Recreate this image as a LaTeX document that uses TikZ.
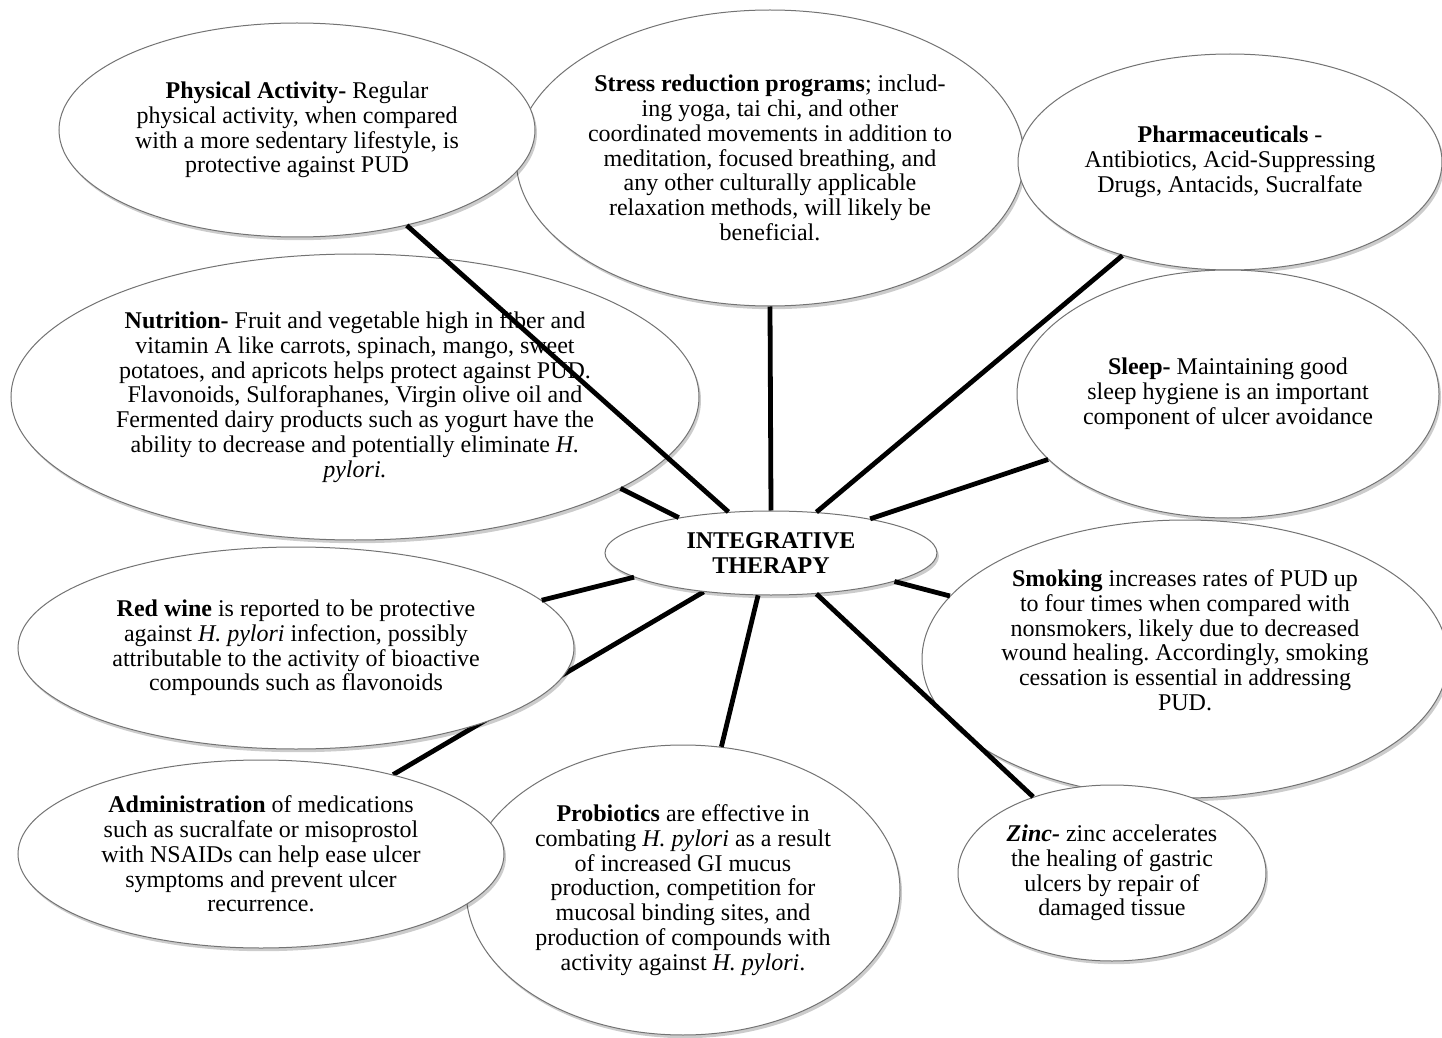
\documentclass[tikz,border=0pt]{standalone}
\usepackage{fontspec}
\setmainfont{Liberation Serif}
\usetikzlibrary{shapes.geometric,shadows}
\pgfdeclarelayer{bg}
\pgfdeclarelayer{fg}
\pgfsetlayers{bg,main,fg}
\frenchspacing
\tikzset{
  bubble/.style={ellipse, draw=black!55, line width=0.5pt, fill=white, inner sep=-2pt,
    align=center, font=\fontsize{12pt}{12.4pt}\selectfont,
    drop shadow={shadow xshift=1pt, shadow yshift=-1.6pt, opacity=0.2, fill=black}},
  link/.style={line width=2.4pt, draw=black},
}
\begin{document}
\begin{tikzpicture}[x=0.5pt,y=-0.5pt]
\begin{pgfonlayer}{bg}
\fill[white] (0,0) rectangle (1442,1038);
\end{pgfonlayer}
\useasboundingbox (0,0) rectangle (1442,1038);

\node[bubble, minimum width=254pt, minimum height=148pt] (stress) at (770,158)
  {\textbf{Stress reduction programs}; includ-\\ing yoga, tai chi, and other\\coordinated movements in addition to\\meditation, focused breathing, and\\any other culturally applicable\\relaxation methods, will likely be\\beneficial.};
\node[bubble, minimum width=212pt, minimum height=108pt] (pharm) at (1230,162)
  {\textbf{Pharmaceuticals} -\\Antibiotics, Acid-Suppressing\\Drugs, Antacids, Sucralfate};
\node[bubble, minimum width=344pt, minimum height=143pt] (nutr) at (355,397)
  {\textbf{Nutrition-} Fruit and vegetable high in fiber and\\vitamin A like carrots, spinach, mango, sweet\\potatoes, and apricots helps protect against PUD.\\Flavonoids, Sulforaphanes, Virgin olive oil and\\Fermented dairy products such as yogurt have the\\ability to decrease and potentially eliminate \textit{H.}\\\textit{pylori.}};
\node[bubble, minimum width=238pt, minimum height=107pt] (pa) at (297,130)
  {\textbf{Physical Activity-} Regular\\physical activity, when compared\\with a more sedentary lifestyle, is\\protective against PUD};
\node[bubble, minimum width=211pt, minimum height=124pt] (sleep) at (1228,394)
  {\textbf{Sleep-} Maintaining good\\sleep hygiene is an important\\component of ulcer avoidance};
\node[bubble, minimum width=263pt, minimum height=139pt] (smoke) at (1185,659)
  {\textbf{Smoking} increases rates of PUD up\\to four times when compared with\\nonsmokers, likely due to decreased\\wound healing. Accordingly, smoking\\cessation is essential in addressing\\PUD.\\[6.5pt]\mbox{}};
\node[bubble, minimum width=154pt, minimum height=88pt] (zinc) at (1112,873)
  {\textbf{\textit{Zinc-}} zinc accelerates\\the healing of gastric\\ulcers by repair of\\damaged tissue};
\node[bubble, minimum width=217pt, minimum height=145pt] (prob) at (683,890)
  {\textbf{Probiotics} are effective in\\combating \textit{H. pylori} as a result\\of increased GI mucus\\production, competition for\\mucosal binding sites, and\\production of compounds with\\activity against \textit{H. pylori}.};
\node[bubble, minimum width=243pt, minimum height=94pt] (admin) at (261,854)
  {\textbf{Administration} of medications\\such as sucralfate or misoprostol\\with NSAIDs can help ease ulcer\\symptoms and prevent ulcer\\recurrence.};
\node[bubble, minimum width=278pt, minimum height=101pt] (wine) at (296,648)
  {\textbf{Red wine} is reported to be protective\\against \textit{H. pylori} infection, possibly\\attributable to the activity of bioactive\\compounds such as flavonoids};
\node[bubble, minimum width=166pt, minimum height=42pt] (ctr) at (771,553)
  {\textbf{INTEGRATIVE}\\\textbf{THERAPY}};

\begin{pgfonlayer}{bg}
\draw[link] (admin.31) -- (ctr.-150.5);
\end{pgfonlayer}
\begin{pgfonlayer}{fg}
\draw[link] (pa.-41.3) -- (ctr.136.9);
\draw[link] (stress.-90) -- (ctr.90);
\draw[link] (pharm.-139.4) -- (ctr.42.5);
\draw[link] (sleep.-160.5) -- (ctr.19.5);
\draw[link] (nutr.-19.9) -- (ctr.159);
\draw[link] (wine.11.6) -- (ctr.190.6);
\draw[link] (prob.75.9) -- (ctr.-107.2);
\draw[link] (zinc.136.8) -- (ctr.-42.9);
\draw[link] (smoke.165.4) -- (ctr.-13.9);
\end{pgfonlayer}
\end{tikzpicture}
\end{document}
